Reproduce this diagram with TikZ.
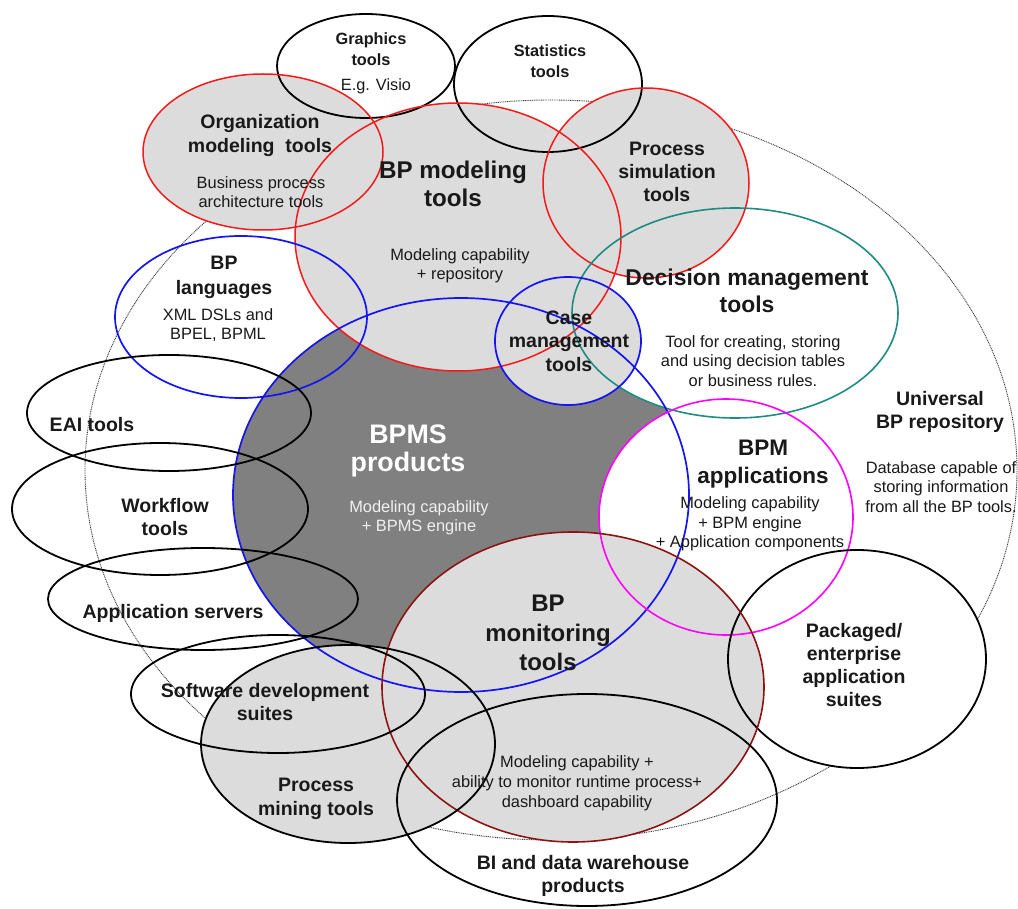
\documentclass[tikz,border=0pt]{standalone}
\usepackage{fontspec}
\setmainfont{Liberation Sans}
\definecolor{lightfill}{RGB}{220,220,220}
\definecolor{darkfill}{RGB}{128,128,128}
\definecolor{penred}{RGB}{245,25,25}
\definecolor{penblue}{RGB}{20,20,245}
\definecolor{penteal}{RGB}{30,140,130}
\definecolor{penmagenta}{RGB}{255,0,255}
\definecolor{pendarkred}{RGB}{140,20,20}
\definecolor{txt}{RGB}{25,25,25}
\begin{document}
\begin{tikzpicture}[x=1pt,y=-1pt,
  every node/.style={align=center,inner sep=0pt,text=txt},
  bigt/.style={font=\fontsize{24}{28}\selectfont\bfseries},
  midt/.style={font=\fontsize{19.5}{23.3}\selectfont\bfseries},
  smallt/.style={font=\fontsize{16.4}{19.5}\selectfont},
  tinyt/.style={font=\fontsize{16.3}{20.5}\selectfont\bfseries},
  blackline/.style={draw=black,line width=1.8pt},
  redline/.style={draw=penred,line width=1.5pt},
  blueline/.style={draw=penblue,line width=1.7pt},
  tealline/.style={draw=penteal,line width=1.6pt},
  magline/.style={draw=penmagenta,line width=1.6pt},
  dredline/.style={draw=pendarkred,line width=1.6pt},
  univline/.style={draw=black!75,line width=0.9pt,dash pattern=on 1pt off 0.8pt},
]
\fill[white] (0,0) rectangle (1018,909);
\useasboundingbox (0,0) rectangle (1018,909);

% ellipse centres
\coordinate (cUniv) at (551,470);
\coordinate (cGraph) at (366,66);
\coordinate (cStat) at (548,84);
\coordinate (cOrg) at (263,152);
\coordinate (cMod) at (458,237);
\coordinate (cSim) at (646,183);
\coordinate (cLang) at (241,317);
\coordinate (cDec) at (735,313);
\coordinate (cCase) at (568,341);
\coordinate (cBpms) at (461,495);
\coordinate (cEai) at (169,413);
\coordinate (cFlow) at (160,509);
\coordinate (cApp) at (203,599);
\coordinate (cBpm) at (726,517);
\coordinate (cPack) at (857,659);
\coordinate (cMon) at (573,687);
\coordinate (cSoft) at (278,694);
\coordinate (cMine) at (348,744);
\coordinate (cBi) at (587,800);

% universal repository boundary (beneath all fills)
\path[univline] (cUniv) ellipse [x radius=466pt,y radius=370pt];

% fills, bottom to top
\fill[darkfill] (cBpms) ellipse [x radius=228pt,y radius=197pt];
\fill[white] (cDec) ellipse [x radius=163pt,y radius=105pt];
\fill[white] (cBpm) ellipse [x radius=127pt,y radius=118pt];
\fill[white] (cPack) ellipse [x radius=129pt,y radius=109pt];
\fill[lightfill] (cMod) ellipse [x radius=163pt,y radius=134pt];
\fill[lightfill] (cSim) ellipse [x radius=103pt,y radius=95pt];
\fill[lightfill] (cOrg) ellipse [x radius=120pt,y radius=78pt];
\fill[lightfill] (cCase) ellipse [x radius=73pt,y radius=64pt];
\fill[lightfill] (cMon) ellipse [x radius=191pt,y radius=155pt];
\fill[lightfill] (cMine) ellipse [x radius=147pt,y radius=99pt];

% outlines
\path[blackline] (cGraph) ellipse [x radius=89pt,y radius=52pt];
\path[blackline] (cStat) ellipse [x radius=94pt,y radius=68pt];
\path[redline] (cOrg) ellipse [x radius=120pt,y radius=78pt];
\path[redline] (cMod) ellipse [x radius=163pt,y radius=134pt];
\path[redline] (cSim) ellipse [x radius=103pt,y radius=95pt];
\path[blueline] (cLang) ellipse [x radius=126pt,y radius=81pt];
\path[tealline] (cDec) ellipse [x radius=163pt,y radius=105pt];
\path[blueline] (cCase) ellipse [x radius=73pt,y radius=64pt];
\path[blueline] (cBpms) ellipse [x radius=228pt,y radius=197pt];
\path[blackline] (cEai) ellipse [x radius=142pt,y radius=58pt];
\path[blackline] (cFlow) ellipse [x radius=148pt,y radius=66pt];
\path[blackline] (cApp) ellipse [x radius=155pt,y radius=51pt];
\path[magline] (cBpm) ellipse [x radius=127pt,y radius=118pt];
\path[blackline] (cPack) ellipse [x radius=129pt,y radius=109pt];
\path[dredline] (cMon) ellipse [x radius=191pt,y radius=155pt];
\path[blackline] (cSoft) ellipse [x radius=147pt,y radius=59pt];
\path[blackline] (cMine) ellipse [x radius=147pt,y radius=99pt];
\path[blackline] (cBi) ellipse [x radius=190pt,y radius=106pt];

% labels
\node[tinyt] (graphT) at (371,49) {Graphics\\tools};
\node[font=\fontsize{16.3}{20}\selectfont] (graphD) at (376,86) {E.g. Visio};
\node[tinyt] (statT) at (550,61) {Statistics\\tools};

\node[midt,font=\fontsize{19.5}{24}\selectfont\bfseries] (orgT) at (260,136) {Organization\\modeling\ \ tools};
\node[smallt] (orgD) at (261,192) {Business process\\architecture tools};

\node[font=\fontsize{24.2}{28}\selectfont\bfseries] (modT) at (453,184) {BP modeling\\tools};
\node[smallt] (modD) at (460,266) {Modeling capability\\+ repository};

\node[midt] (simT) at (667,172) {Process\\simulation\\tools};

\node[midt,font=\fontsize{19.5}{25}\selectfont\bfseries] (langT) at (224,277) {BP\\languages};
\node[smallt] (langD) at (218,325) {XML DSLs and\\BPEL, BPML};

\node[font=\fontsize{22.9}{27}\selectfont\bfseries] (decT) at (747,291) {Decision management\\tools};
\node[smallt] (decD) at (753,361) {Tool for creating, storing\\and using decision tables\\or business rules.};

\node[midt] (caseT) at (569,341) {Case\\management\\tools};

\node[midt] (univT) at (940,412) {Universal\\BP repository};
\node[smallt] (univD) at (941,487) {Database capable of\\storing information\\from all the BP tools.};

\node[midt] (eaiT) at (92,425) {EAI tools};

\node[font=\fontsize{26.8}{28}\selectfont\bfseries,text=white] (bpmsT) at (408,451) {BPMS\\products};
\node[smallt,text=white!94!black] (bpmsD) at (419,518) {Modeling capability\\+ BPMS engine};

\node[font=\fontsize{22.5}{28}\selectfont\bfseries] (bpmT) at (763,464) {BPM\\applications};
\node[smallt] (bpmD) at (750,524) {Modeling capability\\+ BPM engine\\+ Application components};

\node[midt] (flowT) at (165,517) {Workflow\\tools};
\node[midt] (appT) at (173,613) {Application servers};

\node[font=\fontsize{24}{29.5}\selectfont\bfseries] (monT) at (548,633) {BP\\monitoring\\tools};
\node[smallt,font=\fontsize{16.4}{20}\selectfont] (monD) at (577,783) {Modeling capability +\\ability to monitor runtime process+\\dashboard capability};

\node[midt] (packT) at (854,665) {Packaged/\\enterprise\\application\\suites};
\node[midt] (softT) at (265,702) {Software development\\suites};
\node[midt] (mineT) at (316,799) {Process\\mining tools};
\node[midt,font=\fontsize{19.5}{22.5}\selectfont\bfseries] (biT) at (583,876) {BI and data warehouse\\products};
\end{tikzpicture}
\end{document}
